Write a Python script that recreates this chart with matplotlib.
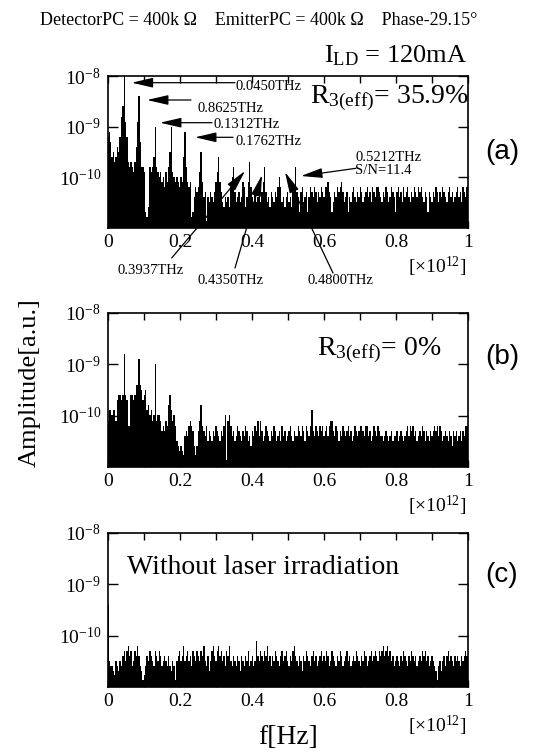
import numpy as np
import matplotlib
matplotlib.use("Agg")
import matplotlib.pyplot as plt
from matplotlib.ticker import MultipleLocator, FixedLocator, NullFormatter, LogLocator

plt.rcParams['font.family'] = ['Liberation Serif', 'DejaVu Serif']
plt.rcParams['mathtext.fontset'] = 'custom'
plt.rcParams['mathtext.rm'] = 'Liberation Serif'
plt.rcParams['mathtext.it'] = 'Liberation Serif:italic'
plt.rcParams['axes.unicode_minus'] = False

# frequency grid: 0 .. 1 THz in steps of 0.00375 THz (x1e12 Hz)
step = 0.00375
n_bins = 267

# amplitude levels in tenths of a decade above 1e-11 (10 -> 1e-10, 20 -> 1e-9, 30 -> 1e-8)
level_a = [
    18, 19, 17, 14, 15, 13, 14, 16, 15, 18, 22, 24, 31, 21, 18, 13, 12, 13, 12, 11,
    13, 16, 21, 26, 17, 12, 12, 11, 3, 2, 4, 12, 11, 12, 14, 20, 12, 11, 10, 11,
    9, 10, 8, 11, 9, 12, 15, 20, 11, 10, 9, 10, 9, 8, 10, 9, 14, 19, 12, 9,
    8, 9, 2, 3, 6, 8, 7, 8, 11, 15, 9, 6, 7, 1, 6, 5, 7, 6, 5, 7,
    9, 11, 14, 9, 7, 5, 4, 6, 5, 6, 4, 8, 10, 12, 7, 5, 6, 7, 5, 6,
    9, 8, 4, 6, 9, 13, 8, 6, 5, 7, 5, 6, 8, 5, 7, 9, 12, 7, 5, 6,
    4, 7, 6, 5, 7, 6, 8, 10, 8, 5, 6, 4, 6, 7, 5, 6, 4, 7, 8, 12,
    7, 6, 3, 7, 8, 5, 6, 7, 3, 6, 8, 7, 6, 8, 7, 5, 7, 6, 8, 7,
    6, 8, 8, 9, 7, 6, 3, 5, 7, 6, 8, 7, 8, 9, 7, 5, 6, 7, 3, 6,
    5, 7, 8, 6, 5, 7, 6, 8, 7, 5, 6, 7, 8, 6, 7, 5, 8, 7, 6, 8,
    8, 7, 6, 5, 7, 6, 8, 7, 5, 6, 8, 7, 6, 3, 7, 8, 6, 7, 5, 8,
    6, 7, 8, 6, 5, 7, 6, 8, 7, 6, 8, 7, 8, 6, 5, 7, 6, 3, 7, 6,
    5, 7, 6, 8, 7, 5, 7, 6, 8, 7, 6, 5, 7, 8, 6, 7, 5, 6, 7, 8,
    6, 7, 5, 8, 7, 6, 8,
]
level_b = [
    9, 11, 11, 10, 11, 11, 9, 13, 14, 14, 13, 14, 22, 14, 13, 8, 8, 14, 14, 13,
    14, 16, 16, 21, 16, 15, 13, 14, 15, 11, 12, 10, 11, 9, 10, 20, 9, 10, 10, 9,
    7, 8, 7, 9, 8, 12, 14, 11, 9, 10, 8, 5, 4, 3, 4, 3, 2, 6, 7, 6,
    8, 9, 8, 7, 4, 2, 4, 7, 9, 12, 8, 7, 6, 8, 5, 7, 6, 5, 7, 6,
    8, 7, 6, 5, 7, 6, 8, 10, 1, 9, 10, 8, 6, 7, 5, 6, 8, 7, 6, 5,
    7, 6, 8, 7, 5, 6, 4, 7, 6, 8, 7, 9, 6, 9, 7, 5, 6, 8, 7, 6,
    5, 7, 6, 8, 7, 5, 6, 7, 5, 8, 6, 7, 5, 6, 7, 8, 6, 5, 7, 6,
    6, 8, 7, 6, 8, 7, 5, 8, 7, 6, 8, 11, 7, 6, 8, 7, 6, 8, 7, 8,
    6, 7, 8, 6, 8, 9, 9, 7, 6, 8, 7, 5, 7, 6, 8, 7, 6, 7, 8, 6,
    7, 5, 6, 8, 7, 6, 7, 8, 8, 7, 6, 8, 8, 6, 7, 5, 6, 8, 7, 6,
    8, 7, 6, 6, 5, 6, 7, 6, 5, 6, 7, 5, 6, 6, 7, 5, 6, 7, 6, 5,
    6, 7, 8, 6, 8, 7, 8, 6, 7, 5, 6, 7, 6, 8, 7, 5, 7, 6, 5, 7,
    6, 7, 8, 7, 8, 6, 8, 7, 5, 6, 7, 6, 5, 7, 6, 4, 7, 6, 7, 5,
    6, 7, 5, 7, 6, 8, 8,
]
level_c = [
    16, 5, 4, 4, 3, 2, 5, 4, 3, 5, 4, 6, 7, 5, 7, 8, 6, 7, 4, 5,
    7, 6, 8, 6, 4, 3, 1, 2, 4, 6, 5, 7, 6, 5, 4, 7, 6, 5, 7, 6,
    4, 5, 6, 5, 4, 6, 4, 3, 5, 4, 1, 5, 6, 7, 5, 6, 8, 5, 6, 7,
    5, 6, 4, 7, 6, 5, 7, 6, 5, 7, 6, 8, 5, 4, 6, 3, 5, 7, 8, 6,
    5, 7, 8, 6, 7, 5, 6, 4, 7, 6, 8, 5, 4, 6, 5, 4, 6, 5, 3, 6,
    5, 4, 6, 5, 7, 4, 5, 6, 4, 5, 9, 6, 5, 7, 6, 5, 7, 6, 8, 5,
    6, 4, 6, 5, 7, 6, 5, 4, 6, 7, 5, 6, 7, 5, 4, 6, 5, 7, 8, 6,
    5, 4, 6, 5, 3, 6, 5, 7, 6, 5, 4, 6, 7, 5, 6, 4, 5, 6, 7, 5,
    6, 5, 7, 6, 4, 5, 7, 6, 5, 4, 6, 5, 7, 6, 4, 5, 6, 7, 5, 6,
    4, 5, 6, 5, 7, 6, 5, 4, 6, 5, 7, 6, 4, 5, 6, 7, 5, 6, 7, 6,
    5, 7, 6, 7, 8, 6, 7, 8, 6, 7, 5, 6, 4, 5, 6, 5, 4, 6, 5, 7,
    6, 5, 4, 6, 5, 7, 6, 5, 6, 4, 5, 6, 5, 7, 6, 7, 5, 6, 4, 5,
    6, 5, 4, 3, 1, 4, 5, 3, 5, 6, 4, 6, 7, 5, 6, 5, 4, 6, 5, 6,
    5, 4, 6, 5, 6, 7, 6,
]

x_ticks = [0, 0.2, 0.4, 0.6, 0.8, 1.0]
x_ticklabels = ['0', '0.2', '0.4', '0.6', '0.8', '1']
y_ticks = [1e-10, 1e-9, 1e-8]
y_ticklabels = ['$10^{-10}$', '$10^{-9}$', '$10^{-8}$']

# peak labels in (a): text, text position, arrow start, arrow tip (pixels in the figure)
peak_notes = [
    ('0.0450THz', (235, 87), (235, 82.7), (131.7, 82.7)),
    ('0.8625THz', (197, 109), (191, 100), (147, 100)),
    ('0.1312THz', (214, 125), (212, 122.7), (160, 122.7)),
    ('0.1762THz', (235, 141.7), (233, 137.3), (195, 137.3)),
    ('0.5212THz\nS/N=11.4', (355, 164), (356, 168.3), (301, 176)),
    ('0.3937THz', (118, 270), (171.7, 258), (245, 171)),
    ('0.4350THz', (197, 280), (235, 268), (262, 175)),
    ('0.4800THz', (308, 280), (333, 273), (285, 172)),
]

W, H = 537, 756
fig = plt.figure(figsize=(W / 100, H / 100), dpi=100)


def fx(x):
    return x / W


def fy(y):
    return 1 - y / H


panels = [
    (level_a, 76, 228, '(a)', 152),
    (level_b, 313, 467, '(b)', 357),
    (level_c, 533, 687, '(c)', 575),
]
freq = np.arange(n_bins) * step
axes = []
for levels, top, bottom, tag, tag_y in panels:
    ax = fig.add_axes([fx(108), fy(bottom), fx(468) - fx(108), fy(top) - fy(bottom)])
    amp = 1e-11 * 10 ** (np.array(levels) / 10)
    ax.bar(freq, amp, width=step, bottom=1e-12, color='black', linewidth=0)
    ax.set_yscale('log')
    ax.set_xlim(0, 1)
    ax.set_ylim(1e-11, 1e-8)
    ax.xaxis.set_major_locator(FixedLocator(x_ticks))
    ax.set_xticklabels(x_ticklabels)
    ax.xaxis.set_minor_locator(MultipleLocator(0.1))
    ax.yaxis.set_major_locator(FixedLocator(y_ticks))
    ax.set_yticklabels(y_ticklabels)
    ax.yaxis.set_minor_locator(LogLocator(base=10, subs=np.arange(2, 10)))
    ax.yaxis.set_minor_formatter(NullFormatter())
    ax.tick_params(axis='x', which='both', direction='in', top=True, length=5, width=1,
                   labelsize=14, pad=4)
    ax.tick_params(axis='y', which='major', direction='in', right=True, length=7, width=1,
                   labelsize=14, pad=5)
    ax.tick_params(axis='y', which='minor', direction='in', right=True, length=3, width=0.8)
    for s in ax.spines.values():
        s.set_linewidth(1.2)
    fig.text(fx(466), fy(bottom + 45), r'[$\times$10$^{12}$]', fontsize=14,
             ha='right', va='baseline')
    fig.text(fx(502), fy(tag_y), tag, fontsize=20, family='Liberation Sans',
             ha='center', va='center')
    axes.append(ax)

for txt, tpos, start, tip in peak_notes:
    fig.text(fx(tpos[0]), fy(tpos[1]), txt, fontsize=10.5, ha='left', va='center',
             linespacing=0.95)
    fig.add_artist(matplotlib.patches.FancyArrowPatch(
        (fx(start[0]), fy(start[1])), (fx(tip[0]), fy(tip[1])),
        transform=fig.transFigure, arrowstyle='-|>,head_length=1.3,head_width=0.3',
        mutation_scale=10, color='black', lw=0.9, shrinkA=0, shrinkB=0))

fig.text(fx(310), fy(103), r'R$_{3(\mathrm{eff})}$= 35.9%', fontsize=20, ha='left', va='baseline')
fig.text(fx(317), fy(355), r'R$_{3(\mathrm{eff})}$= 0%', fontsize=20, ha='left', va='baseline')
fig.text(fx(127), fy(574), 'Without laser irradiation', fontsize=20, ha='left', va='baseline')

fig.text(fx(259), fy(25), 'DetectorPC = 400k \u03a9    EmitterPC = 400k \u03a9    Phase-29.15\u00b0',
         fontsize=13, ha='center', va='baseline')
fig.text(fx(467), fy(62), r'I$_{\mathrm{LD}}$ = 120mA', fontsize=19, ha='right', va='baseline')

fig.text(fx(30), fy(383), 'Amplitude[a.u.]', fontsize=19, rotation=90, ha='center', va='center')
fig.text(fx(288), fy(737), 'f[Hz]', fontsize=20, ha='center', va='center')

fig.savefig('out.png', dpi=100)
